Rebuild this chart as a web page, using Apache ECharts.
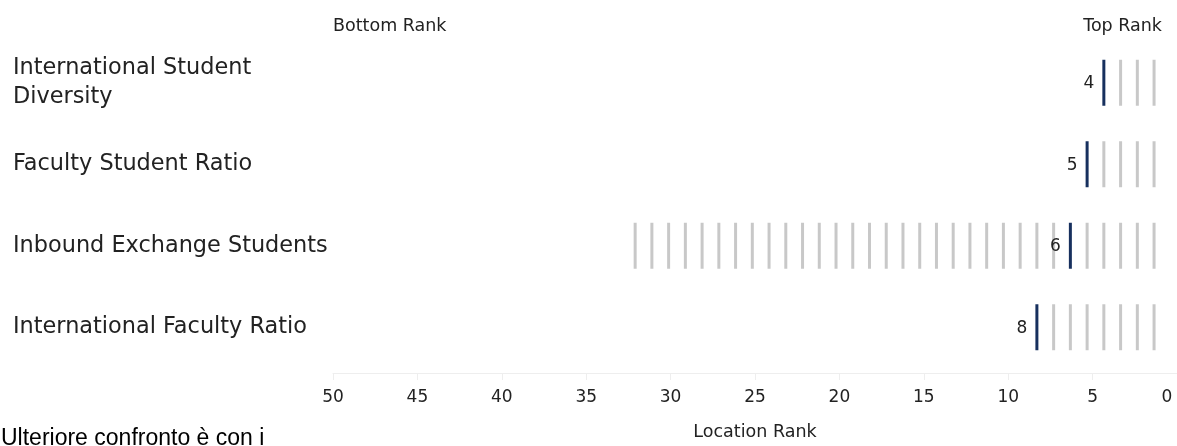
<!DOCTYPE html>
<html>
<head>
<meta charset="utf-8">
<script src="https://cdn.jsdelivr.net/npm/echarts@6/dist/echarts.min.js"></script>
<style>
html,body{margin:0;padding:0;background:#fff;overflow:hidden;}
#chart{width:1177px;height:446px;}
</style>
</head>
<body>
<div id="chart"></div>
<script>
var categories = ['International Student Diversity', 'Faculty Student Ratio', 'Inbound Exchange Students', 'International Faculty Ratio'];
var locationRank = [4, 5, 6, 8];
var otherRanks = [
  [1, 2, 3],
  [1, 2, 3, 4],
  [1, 2, 3, 4, 5, 7, 8, 9, 10, 11, 12, 13, 14, 15, 16, 17, 18, 19, 20, 21, 22, 23, 24, 25, 26, 27, 28, 29, 30, 31, 32],
  [1, 2, 3, 4, 5, 6, 7]
];
var tickValues = [0, 5, 10, 15, 20, 25, 30, 35, 40, 45, 50];
var axisTitle = 'Location Rank';
var leftLabel = 'Bottom Rank';
var rightLabel = 'Top Rank';
var footerText = 'Ulteriore confronto è con i';

var greyData = [];
otherRanks.forEach(function (arr, i) {
  arr.forEach(function (r) { greyData.push([r, categories[i]]); });
});
var rankData = locationRank.map(function (r, i) { return [r, categories[i]]; });

var FONT = 'DejaVu Sans';
var chart = echarts.init(document.getElementById('chart'), null, { width: 1177, height: 446 });
chart.setOption({
  animation: false,
  backgroundColor: '#fff',
  textStyle: { fontFamily: FONT },
  grid: { left: 333, width: 845, top: 42, height: 333, containLabel: false },
  xAxis: [{
    type: 'value', inverse: true, min: tickValues[0], max: tickValues[tickValues.length - 1], interval: 5,
    offset: 5,
    axisLine: { show: true, lineStyle: { color: '#eeeeee', width: 1 } },
    axisTick: { show: true, length: 7, lineStyle: { color: '#eeeeee' } },
    splitLine: { show: false },
    axisLabel: {
      fontSize: 17, color: '#222', margin: 16, fontFamily: FONT,
      formatter: function (v) { return v === 0 ? '{z|0}' : String(v); },
      rich: { z: { fontSize: 17, color: '#222', fontFamily: FONT, padding: [0, 20, 0, 0] } }
    },
    name: axisTitle, nameLocation: 'middle', nameGap: 50,
    nameTextStyle: { fontSize: 17.5, color: '#222', fontFamily: FONT }
  }, {
    type: 'value', inverse: true, min: -0.37, max: 50.05, show: false
  }],
  yAxis: {
    type: 'category', inverse: true, data: categories,
    axisLine: { show: true, lineStyle: { color: '#f2f2f2' } },
    axisTick: { show: false },
    splitLine: { show: false },
    axisLabel: {
      align: 'left', margin: 320, fontSize: 22.4, color: '#222', lineHeight: 29, fontFamily: FONT,
      padding: [4, 0, 0, 0],
      formatter: function (v) { return v.replace('Student Diversity', 'Student\nDiversity'); }
    }
  },
  series: [{
    type: 'scatter', xAxisIndex: 1, data: greyData,
    symbol: 'rect', symbolSize: [3, 46],
    itemStyle: { color: '#c8c8c8', opacity: 1 }, silent: true
  }, {
    type: 'scatter', xAxisIndex: 1, data: rankData,
    symbol: 'rect', symbolSize: [3, 46],
    itemStyle: { color: '#17305e', opacity: 1 }, z: 3,
    label: {
      show: true, position: 'left', distance: 8, offset: [0, 1], fontSize: 17, color: '#222', fontFamily: FONT,
      formatter: function (p) { return String(p.value[0]); }
    }
  }],
  graphic: [
    { type: 'text', left: 333, top: 17, style: { text: leftLabel, fontSize: 17.5, fill: '#222', fontFamily: FONT } },
    { type: 'text', right: 15, top: 17, style: { text: rightLabel, fontSize: 17.5, fill: '#222', fontFamily: FONT } },
    { type: 'text', left: 1, top: 427, style: { text: footerText, fontSize: 23, fill: '#000', fontFamily: 'Liberation Sans' } }
  ]
});
</script>
</body>
</html>
